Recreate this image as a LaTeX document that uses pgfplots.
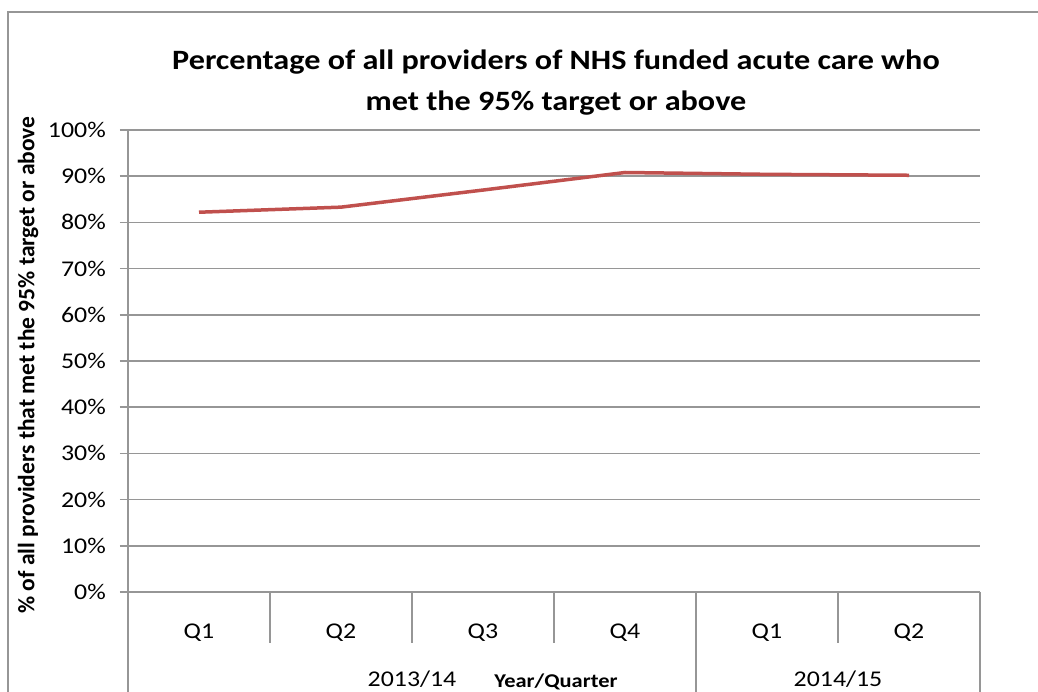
\documentclass[border=0pt]{standalone}
\usepackage{fontspec}
\setmainfont{Carlito}[FakeStretch=1.15]
\newfontfamily\plainfont{Carlito}
\usepackage{pgfplots}
\pgfplotsset{compat=1.18}
\definecolor{gridgray}{HTML}{969696}
\definecolor{linered}{HTML}{C0504D}

\begin{document}
\begin{tikzpicture}
\path[use as bounding box] (0pt,0pt) rectangle (1038pt,692pt);
\draw[gridgray, line width=1.5pt] (8pt,0pt) -- (8pt,680pt) -- (1038pt,680pt);

% title
\node[font=\bfseries\fontsize{28}{30}\selectfont] at (556pt,630pt) {Percentage of all providers of NHS funded acute care who};
\node[font=\bfseries\fontsize{28}{30}\selectfont] at (556pt,589pt) {met the 95\% target or above};

% y label
\node[rotate=90, font=\plainfont\bfseries\fontsize{23.5}{26}\selectfont] at (28pt,327pt)
  {\% of all providers that met the 95\% target or above};

\begin{axis}[
  at={(128pt,100pt)}, anchor=south west,
  scale only axis, width=852pt, height=462pt,
  xmin=-0.5, xmax=5.5, ymin=0, ymax=100,
  xtick={0,1,2,3,4,5},
  xticklabels={Q1,Q2,Q3,Q4,Q1,Q2},
  ytick={0,10,...,100},
  yticklabels={0\%,10\%,20\%,30\%,40\%,50\%,60\%,70\%,80\%,90\%,100\%},
  axis x line*=bottom, axis y line*=left,
  axis line style={gridgray, line width=1.5pt, -},
  ymajorgrids, grid style={gridgray, line width=1.5pt},
  x tick style={draw=none},
  y tick style={gridgray, line width=1.5pt},
  tick align=outside, major tick length=8pt,
  tick label style={font=\fontsize{22.5}{24}\selectfont},
  xticklabel style={anchor=base, yshift=-39pt},
  yticklabel style={anchor=east, inner sep=0pt, xshift=-14pt},
  clip=false,
]
\addplot[linered, line width=3.5pt, line join=round] coordinates {
  (0,82.2) (1,83.3) (2,87.0) (3,90.8) (4,90.4) (5,90.2)
};

% category separators
\draw[gridgray, line width=1.5pt] (axis cs:0.5,0) -- ([yshift=-51pt]axis cs:0.5,0);
\draw[gridgray, line width=1.5pt] (axis cs:1.5,0) -- ([yshift=-51pt]axis cs:1.5,0);
\draw[gridgray, line width=1.5pt] (axis cs:2.5,0) -- ([yshift=-51pt]axis cs:2.5,0);
\draw[gridgray, line width=1.5pt] (axis cs:4.5,0) -- ([yshift=-51pt]axis cs:4.5,0);
\draw[gridgray, line width=1.5pt] (axis cs:-0.5,0) -- ([yshift=-100pt]axis cs:-0.5,0);
\draw[gridgray, line width=1.5pt] (axis cs:3.5,0) -- ([yshift=-100pt]axis cs:3.5,0);
\draw[gridgray, line width=1.5pt] (axis cs:5.5,0) -- ([yshift=-100pt]axis cs:5.5,0);

% year labels
\node[anchor=base, font=\fontsize{22.5}{24}\selectfont] at ([yshift=-95pt]axis cs:1.5,0) {2013/14};
\node[anchor=base, font=\fontsize{22.5}{24}\selectfont] at ([yshift=-95pt]axis cs:4.5,0) {2014/15};
\node[anchor=base, font=\bfseries\fontsize{19.5}{22}\selectfont] at ([yshift=-96pt]axis cs:2.514,0) {Year/Quarter};
\end{axis}
\end{tikzpicture}
\end{document}
